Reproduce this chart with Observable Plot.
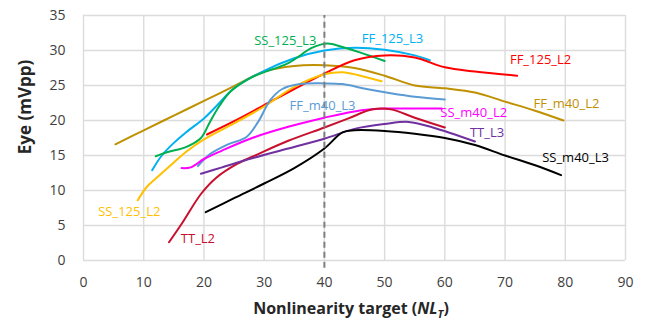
<!DOCTYPE html>
<html>
<head>
<meta charset="utf-8">
<script src="https://cdn.jsdelivr.net/npm/d3@7"></script>
<script src="https://cdn.jsdelivr.net/npm/@observablehq/plot@0.6"></script>
<style>
  html, body { margin: 0; padding: 0; background: #fff; }
  #chart svg { display: block; }
</style>
</head>
<body>
<div id="chart"></div>
<script>
// ---- data (x = nonlinearity target, y = eye in mVpp) ----
const FF_m40_L2 = [[5.3,16.6],[10,18.6],[15,20.7],[20,22.8],[25,24.9],[30,27.0],[35,27.8],[40,27.9],[45,27.5],[50,26.4],[55,25],[60,24.6],[65,24],[70,22.7],[75,21.4],[79.7,20]];
const FF_125_L3 = [[11.4,12.9],[13,15],[15,16.8],[17,18.3],[20,20.3],[22,22],[25,24.6],[30,27.1],[35,28.9],[40,30],[45,30.4],[50,30.1],[55,29.3],[57.5,28.6]];
const SS_125_L3 = [[12,14.9],[14,15.5],[17,16.2],[19.5,17.5],[21,19.8],[22.5,22],[24.5,24.2],[28,26.2],[34,28.2],[38,30.4],[40.5,31],[43,30.5],[46,29.7],[50,28.5]];
const FF_125_L2 = [[20.5,18],[25,19.9],[30,22.2],[35,24.5],[40,26.7],[45,28.6],[50,29.3],[55,29],[60,27.6],[65,27],[72,26.4]];
const SS_125_L2 = [[9,8.6],[10.5,10.5],[12,11.7],[15,14],[17,15.5],[20,17.3],[25,19.6],[30,22],[35,24.8],[40,26.6],[43,26.9],[46,26.4],[49.5,25.6]];
const FF_m40_L3 = [[19,13.5],[21,15.2],[24,16.6],[27,17.6],[29,19.8],[31,22.9],[33,24.5],[36,25.2],[40,25.3],[43,25.2],[47,24.5],[51,23.9],[55,23.4],[60,23]];
const SS_m40_L2 = [[16.3,13.2],[17.8,13.3],[20,14.5],[23,15.7],[28,17.5],[34,19.1],[40,20.4],[45,21.3],[50,21.7],[55,21.7],[59.5,21.7]];
const TT_L2     = [[14.2,2.6],[16.5,5.5],[19.5,9.5],[22,11.8],[25.5,13.8],[29,15.2],[34,17.1],[40,19],[44,20.3],[48,21.6],[51,21.6],[55,20.4],[60,19]];
const TT_L3     = [[19.5,12.4],[23,13.3],[28,14.6],[34,16],[40,17.4],[45,18.8],[50,19.5],[54,19.8],[58,19],[65,17]];
const SS_m40_L3 = [[20.3,6.9],[25,8.9],[30,11],[35,13.2],[40,16],[43,18.3],[45,18.6],[50,18.5],[55,18.1],[60,17.5],[65,16.5],[70,15],[75,13.6],[79.3,12.2]];

const seriesNames = ["FF_m40_L2","FF_125_L3","SS_125_L3","FF_125_L2","SS_125_L2","FF_m40_L3","SS_m40_L2","TT_L2","TT_L3","SS_m40_L3"];
const seriesData  = [FF_m40_L2, FF_125_L3, SS_125_L3, FF_125_L2, SS_125_L2, FF_m40_L3, SS_m40_L2, TT_L2, TT_L3, SS_m40_L3];
const seriesColors = ["#BF9000","#00B0F0","#00B050","#FF0000","#FFC000","#5B9BD5","#FF00FF","#C8102E","#7030A0","#000000"];

// label anchor points (data units)
const labelNames = ["SS_125_L3","FF_125_L3","FF_125_L2","FF_m40_L2","FF_m40_L3","SS_m40_L2","TT_L3","SS_m40_L3","SS_125_L2","TT_L2"];
const labelX = [33.5, 51.3, 75.9, 80.2, 39.7, 64.8, 67, 81.7, 7.6, 19];
const labelY = [31.4, 31.7, 28.6, 22.4, 22.1, 21.1, 18.3, 14.7, 6.9, 3.1];

const xTicks = [0,10,20,30,40,50,60,70,80,90];
const yTicks = [0,5,10,15,20,25,30,35];
const targetLine = [40];

// ---- tables ----
const rows = seriesNames.flatMap((s, i) => seriesData[i].map(([x, y]) => ({series: s, x, y})));
const labels = labelNames.map((t, i) => ({text: t, x: labelX[i], y: labelY[i]}));

const chart = Plot.plot({
  width: 648,
  height: 331,
  marginLeft: 83,
  marginRight: 23,
  marginTop: 15,
  marginBottom: 71,
  style: {fontFamily: "'Open Sans', sans-serif", fontSize: "14px", color: "#404040", background: "#fff"},
  x: {domain: [0, 90], ticks: xTicks, tickSize: 0, tickPadding: 17, label: null},
  y: {domain: [0, 35], ticks: yTicks, tickSize: 0, tickPadding: 18, label: null},
  color: {domain: seriesNames, range: seriesColors},
  marks: [
    Plot.gridX(xTicks, {stroke: "#dcdcdc", strokeOpacity: 1, strokeWidth: 1.4}),
    Plot.gridY(yTicks, {stroke: "#dcdcdc", strokeOpacity: 1, strokeWidth: 1.4}),
    Plot.line(rows, {x: "x", y: "y", z: "series", stroke: "series", strokeWidth: 2, curve: "catmull-rom"}),
    Plot.ruleX(targetLine, {y1: -1.1, y2: 35, stroke: "#7f7f7f", strokeWidth: 2, strokeDasharray: "6,4", clip: false}),
    Plot.text(labels, {x: "x", y: "y", text: "text", fill: (d) => seriesColors[seriesNames.indexOf(d.text)], fontSize: 13})
  ]
});

document.getElementById("chart").appendChild(chart);

// axis titles
const svg = d3.select(chart);
svg.append("text")
  .attr("transform", "translate(31,107) rotate(-90)")
  .attr("text-anchor", "middle")
  .attr("font-family", "'Open Sans', sans-serif")
  .attr("font-size", 17)
  .attr("font-weight", "bold")
  .attr("fill", "#262626")
  .text("Eye (mVpp)");

const xt = svg.append("text")
  .attr("x", 351).attr("y", 314)
  .attr("text-anchor", "middle")
  .attr("font-family", "'Open Sans', sans-serif")
  .attr("font-size", 16)
  .attr("font-weight", "bold")
  .attr("fill", "#262626");
xt.append("tspan").text("Nonlinearity target (");
xt.append("tspan").attr("font-style", "italic").text("NL");
xt.append("tspan").attr("font-style", "italic").attr("font-size", 11).attr("dy", 4).text("T");
xt.append("tspan").attr("dy", -4).text(")");
</script>
</body>
</html>
